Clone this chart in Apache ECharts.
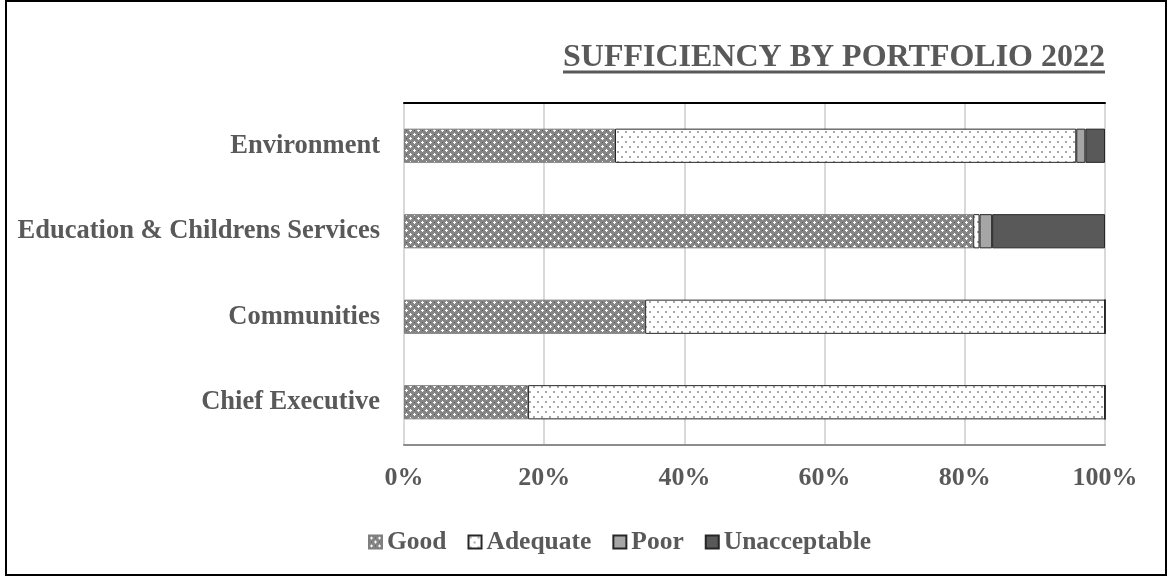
<!DOCTYPE html>
<html>
<head>
<meta charset="utf-8">
<script src="https://cdn.jsdelivr.net/npm/echarts@6/dist/echarts.min.js"></script>
<style>
  html, body { margin: 0; padding: 0; background: #fff; }
  #chart { width: 1168px; height: 577px; }
</style>
</head>
<body>
<div id="chart"></div>
<script>
// data (percent of each portfolio)
const portfolios = ['Chief Executive', 'Communities', 'Education & Childrens Services', 'Environment'];
const good = [17.7, 34.4, 81.2, 30.1];
const adequate = [82.3, 65.6, 0.9, 65.8];
const poor = [0, 0, 1.8, 1.3];
const unacceptable = [0, 0, 16.1, 2.8];
const xTicks = [0, 20, 40, 60, 80, 100];

const FONT = 'Liberation Serif';
const TXT = '#595959';

// little canvas tiles for the hatched fills
const makeTile = (w, h, draw) => {
  const c = document.createElement('canvas');
  c.width = w; c.height = h;
  draw(c.getContext('2d'));
  return c;
};

const goodTile = makeTile(8, 8, ctx => {
  ctx.fillStyle = '#868686';
  ctx.fillRect(0, 0, 8, 8);
  ctx.fillStyle = '#ffffff';
  [[2, 2], [6, 6]].forEach(([x, y]) => {
    ctx.fillRect(x, y - 1, 1, 3);
    ctx.fillRect(x - 1, y, 3, 1);
  });
  ctx.fillStyle = '#555555';
  ctx.fillRect(6, 2, 1, 1);
  ctx.fillRect(2, 6, 1, 1);
});

const adequateTile = makeTile(8, 10, ctx => {
  ctx.fillStyle = '#ffffff';
  ctx.fillRect(0, 0, 8, 10);
  ctx.fillStyle = '#a8a8a8';
  ctx.fillRect(1, 1, 2, 2);
  ctx.fillRect(5, 6, 2, 2);
});

const seriesDefs = [
  { name: 'Good', data: good, color: { image: goodTile, repeat: 'repeat' }, border: '#7f7f7f' },
  { name: 'Adequate', data: adequate, color: { image: adequateTile, repeat: 'repeat' }, border: '#262626' },
  { name: 'Poor', data: poor, color: '#a6a6a6', border: '#262626' },
  { name: 'Unacceptable', data: unacceptable, color: '#595959', border: '#262626' },
];

const chart = echarts.init(document.getElementById('chart'), null, { renderer: 'canvas' });

const option = {
  animation: false,
  textStyle: { fontFamily: FONT },
  title: {
    text: 'SUFFICIENCY BY PORTFOLIO 2022',
    right: 63,
    top: 42,
    padding: 0,
    textStyle: { fontFamily: FONT, fontSize: 32, fontWeight: 'bold', color: TXT },
  },
  legend: {
    left: 368,
    top: 529,
    padding: 0,
    itemWidth: 13,
    itemHeight: 13,
    itemGap: 21,
    icon: 'rect',
    data: seriesDefs.map(s => s.name),
    textStyle: { fontFamily: FONT, fontSize: 25.5, fontWeight: 'bold', color: TXT },
  },
  grid: { left: 404, right: 63, top: 103, bottom: 132, containLabel: false },
  xAxis: [
    {
      type: 'value',
      min: 0,
      max: 100,
      interval: 20,
      axisLine: { show: true, lineStyle: { color: '#8c8c8c', width: 2 } },
      axisTick: { show: false },
      splitLine: { show: true, lineStyle: { color: '#d9d9d9', width: 2 } },
      axisLabel: {
        margin: 20,
        formatter: v => xTicks.includes(v) ? v + '%' : '',
        fontFamily: FONT, fontSize: 26, fontWeight: 'bold', color: TXT,
      },
    },
    {
      type: 'value',
      position: 'top',
      min: 0,
      max: 100,
      axisLine: { show: true, lineStyle: { color: '#000', width: 2 } },
      axisTick: { show: false },
      axisLabel: { show: false },
      splitLine: { show: false },
    },
  ],
  yAxis: {
    type: 'category',
    data: portfolios,
    axisLine: { show: false },
    axisTick: { show: false },
    axisLabel: {
      margin: 24,
      fontFamily: FONT, fontSize: 26.5, fontWeight: 'bold', color: TXT,
    },
  },
  series: seriesDefs.map(s => ({
    name: s.name,
    type: 'bar',
    stack: 'total',
    barWidth: '40%',
    data: s.data,
    itemStyle: { color: s.color, borderColor: s.border, borderWidth: 1 },
  })),
  graphic: [
    {
      type: 'line',
      shape: { x1: 563, y1: 72, x2: 1105, y2: 72 },
      style: { stroke: TXT, lineWidth: 3 },
    },
    {
      type: 'rect',
      shape: { x: 6, y: 1, width: 1160, height: 574 },
      style: { fill: 'none', stroke: '#000', lineWidth: 2 },
    },
  ],
};

chart.setOption(option);
</script>
</body>
</html>
